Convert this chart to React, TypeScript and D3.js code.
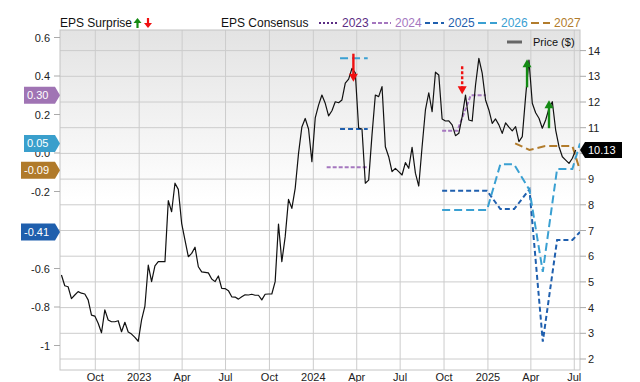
import React from 'react';
import * as d3 from 'd3';

const W = 640;
const H = 382;
const PL = 60, PR = 580, PT = 30, PB = 370;

const priceStart = '2022-07-22';
const priceValues = [
  5.27, 4.85, 4.81, 4.35, 4.49, 4.62, 4.56, 4.53, 4.30, 3.71,
  3.67, 3.39, 3.02, 3.91, 3.52, 3.45, 3.45, 3.49, 3.06, 3.43,
  3.05, 2.97, 2.84, 2.69, 3.52, 4.06, 5.65, 5.01, 5.62, 5.79,
  5.79, 5.79, 8.16, 7.73, 8.84, 8.60, 7.28, 6.63, 5.98, 6.11,
  6.35, 5.59, 5.39, 5.37, 5.35, 5.11, 5.01, 5.23, 4.75, 4.74,
  4.66, 4.42, 4.41, 4.33, 4.42, 4.50, 4.49, 4.52, 4.48, 4.48,
  4.30, 4.52, 4.53, 4.53, 5.01, 7.25, 5.79, 6.75, 8.21, 7.86,
  8.64, 10.00, 11.03, 11.36, 10.95, 9.68, 11.38, 11.88, 12.27, 11.95,
  11.46, 11.66, 12.01, 11.97, 12.08, 12.73, 12.89, 13.31, 13.13, 10.99,
  10.95, 8.84, 8.96, 10.72, 12.27, 12.21, 12.60, 10.26, 9.87, 9.29,
  9.42, 9.29, 9.16, 9.64, 9.42, 10.24, 9.23, 8.73, 10.26, 11.69,
  12.36, 11.62, 13.16, 13.05, 11.34, 11.26, 11.27, 11.11, 10.69, 10.78,
  11.43, 12.27, 11.30, 11.26, 12.66, 13.70, 13.12, 12.08, 11.69, 11.17,
  11.34, 11.11, 10.78, 11.19, 11.02, 10.88, 11.04, 10.46, 10.65, 12.21,
  13.63, 11.95, 11.58, 11.37, 10.98, 11.30, 11.75, 12.01, 10.91, 10.26,
  9.87, 9.74, 9.61, 9.81, 10.13,
];

const cons2024Dates = ['2024-01-29', '2024-04-23', '2024-07-01', '2024-09-27', '2024-10-29', '2024-11-26', '2024-12-28'];
const cons2024Values = [-0.074, -0.074, null, 0.116, 0.116, 0.30, 0.30];

const cons2025Dates = ['2024-02-26', '2024-04-24', '2024-07-01', '2024-09-27', '2024-12-30', '2025-01-27', '2025-02-25', '2025-03-29', '2025-04-26', '2025-05-26', '2025-06-27', '2025-07-13'];
const cons2025Values = [0.125, 0.125, null, -0.196, -0.196, -0.291, -0.291, -0.189, -0.98, -0.452, -0.452, -0.41];

const cons2026Dates = ['2024-02-26', '2024-04-24', '2024-07-01', '2024-09-27', '2024-12-30', '2025-01-27', '2025-02-25', '2025-03-29', '2025-04-26', '2025-05-26', '2025-06-27', '2025-07-13'];
const cons2026Values = [0.492, 0.492, null, -0.296, -0.296, -0.059, -0.059, -0.192, -0.617, -0.083, -0.083, 0.05];

const cons2027Dates = ['2025-02-27', '2025-03-29', '2025-05-01', '2025-06-27', '2025-07-13'];
const cons2027Values = [0.05, 0.016, 0.036, 0.036, -0.09];

const surpriseDates = ['2024-03-25', '2024-11-08', '2025-03-24', '2025-05-09'];
const surpriseTips = [12.79, 12.30, 13.66, 12.07];
const surpriseDirs = ['down', 'down', 'up', 'up'];
const surpriseDotted = [false, true, false, false];

const epsTicks = [0.6, 0.4, 0.2, 0, -0.2, -0.4, -0.6, -0.8, -1];
// labels hidden behind the value tags in the picture are left empty
const epsTickLabels = ['0.6', '0.4', '0.2', '0.0', '-0.2', '', '-0.6', '-0.8', '-1'];
const priceTicks = [2, 3, 4, 5, 6, 7, 8, 9, 10, 11, 12, 13, 14];
const priceTickLabels = ['2', '3', '4', '5', '6', '7', '8', '9', '', '11', '12', '13', '14'];
const dateTicks = ['2022-10-01', '2023-01-01', '2023-04-01', '2023-07-01', '2023-10-01', '2024-01-01', '2024-04-01', '2024-07-01', '2024-10-01', '2025-01-01', '2025-04-01', '2025-07-01'];
const dateTickLabels = ['Oct', '2023', 'Apr', 'Jul', 'Oct', '2024', 'Apr', 'Jul', 'Oct', '2025', 'Apr', 'Jul'];

const legendYears = ['2023', '2024', '2025', '2026', '2027'];
const seriesColors = { '2023': '#5b2d84', '2024': '#a577bf', '2025': '#1f5fae', '2026': '#3aa0d2', '2027': '#b27c2c' };
const seriesDash = { '2023': '2,2', '2024': '4,2', '2025': '5,3', '2026': '8,4', '2027': '8,4' };
const tagValues = [0.30, 0.05, -0.09, -0.41];
const tagLabels = ['0.30', '0.05', '-0.09', '-0.41'];
const tagColors = ['#a074b4', '#3a9fcc', '#b07a2a', '#1f5fad'];
const lastPriceLabel = '10.13';

const parse = d3.timeParse('%Y-%m-%d');
const FONT = 'Liberation Sans, Arial, Helvetica, sans-serif';

export default function App() {
  const x = d3.scaleTime().domain([new Date(2022, 6, 19), new Date(2025, 6, 13)]).range([PL, PR]);
  const yEps = d3.scaleLinear().domain([-1, 0.6]).range([345.5, 37.5]);
  const yPrice = d3.scaleLinear().domain([2, 14]).range([359, 50.6]);

  const start = parse(priceStart) as Date;
  const priceData = priceValues.map((v, i) => ({ d: d3.timeWeek.offset(start, i), v }));
  const priceLine = d3.line<any>().x((p) => x(p.d)).y((p) => yPrice(p.v));

  const consLine = d3.line<any>().defined((p) => p.v !== null).x((p) => x(p.d)).y((p) => yEps(p.v));
  const mk = (ds: string[], vs: (number | null)[]) => ds.map((d, i) => ({ d: parse(d), v: vs[i] }));
  const cons = [
    { k: '2024', data: mk(cons2024Dates, cons2024Values) },
    { k: '2025', data: mk(cons2025Dates, cons2025Values) },
    { k: '2026', data: mk(cons2026Dates, cons2026Values) },
    { k: '2027', data: mk(cons2027Dates, cons2027Values) },
  ];

  const arrow = (cx: number, tip: number, dir: string, color: string, dotted: boolean, len: number, head: number, hw: number, sw: number, key: string) => {
    const s = dir === 'down' ? -1 : 1;
    return (
      <g key={key}>
        <line x1={cx} x2={cx} y1={tip + s * len} y2={tip + s * (head - 1)} stroke={color} strokeWidth={sw} strokeDasharray={dotted ? '3,2' : undefined} />
        <path d={`M${cx - hw},${tip + s * head}L${cx + hw},${tip + s * head}L${cx},${tip}Z`} fill={color} />
      </g>
    );
  };

  const legendPos = [319, 372, 425, 478, 531];

  return (
    <svg width={W} height={H} style={{ position: 'absolute', left: 0, top: 0 }} fontFamily={FONT}>
      <defs>
        <linearGradient id="bg" x1="0" y1="0" x2="0" y2="1">
          <stop offset="0%" stopColor="#e3e3e3" />
          <stop offset="50%" stopColor="#ffffff" />
          <stop offset="100%" stopColor="#ffffff" />
        </linearGradient>
        <clipPath id="plot">
          <rect x={PL} y={PT} width={PR - PL} height={PB - PT} />
        </clipPath>
      </defs>
      <rect x={0} y={0} width={W} height={H} fill="#fff" />
      <rect x={PL} y={PT} width={PR - PL} height={PB - PT} fill="url(#bg)" />
      {priceTicks.map((t) => (
        <line key={'hg' + t} x1={PL} x2={PR} y1={yPrice(t)} y2={yPrice(t)} stroke="#cccccc" strokeWidth={1} />
      ))}
      {dateTicks.map((t) => (
        <line key={'vg' + t} x1={x(parse(t) as Date)} x2={x(parse(t) as Date)} y1={PT} y2={PB} stroke="#cccccc" strokeWidth={1} />
      ))}
      <rect x={PL} y={PT} width={PR - PL} height={PB - PT} fill="none" stroke="#c4c4c4" strokeWidth={1} />

      <g clipPath="url(#plot)">
        {cons.map((c) => (
          <path key={c.k} d={consLine(c.data) as string} fill="none" stroke={(seriesColors as any)[c.k]} strokeWidth={2} strokeDasharray={(seriesDash as any)[c.k]} />
        ))}
        <path d={priceLine(priceData) as string} fill="none" stroke="#111" strokeWidth={1.2} strokeLinejoin="round" />
      </g>

      {surpriseDates.map((d, i) =>
        arrow(x(parse(d) as Date), yPrice(surpriseTips[i]), surpriseDirs[i], surpriseDirs[i] === 'up' ? '#148a14' : '#f01010', surpriseDotted[i], 28, 8, 4.5, 2.4, 's' + i)
      )}

      {epsTicks.map((t, i) => (
        <g key={'et' + t}>
          <line x1={PL - 6} x2={PL} y1={yEps(t)} y2={yEps(t)} stroke="#aaa" />
          {epsTickLabels[i] && (
            <text x={PL - 10} y={yEps(t) + 4} textAnchor="end" fontSize={11} fill="#222">{epsTickLabels[i]}</text>
          )}
        </g>
      ))}
      {priceTicks.map((t, i) => (
        <g key={'pt' + t}>
          <line x1={PR} x2={PR + 6} y1={yPrice(t)} y2={yPrice(t)} stroke="#aaa" />
          {priceTickLabels[i] && (
            <text x={PR + 8} y={yPrice(t) + 4} fontSize={11} fill="#222">{priceTickLabels[i]}</text>
          )}
        </g>
      ))}
      {dateTicks.map((t, i) => (
        <text key={'dt' + t} x={x(parse(t) as Date)} y={381} textAnchor="middle" fontSize={11} fill="#222">{dateTickLabels[i]}</text>
      ))}

      {tagValues.map((v, i) => {
        const yy = yEps(v);
        const left = 36 - 3 * tagLabels[i].length;
        return (
          <g key={'tag' + i}>
            <path d={`M${left},${yy - 8.5}L${55},${yy - 8.5}L${60},${yy}L${55},${yy + 8.5}L${left},${yy + 8.5}Z`} fill={tagColors[i]} />
            <text x={left + 3} y={yy + 4} fontSize={11} fill="#fff">{tagLabels[i]}</text>
          </g>
        );
      })}
      {(() => {
        const yy = yPrice(priceValues[priceValues.length - 1]);
        return (
          <g>
            <path d={`M${580},${yy}L${585},${yy - 8}L${622},${yy - 8}L${622},${yy + 8}L${585},${yy + 8}Z`} fill="#000" />
            <text x={588} y={yy + 4} fontSize={11} fill="#fff">{lastPriceLabel}</text>
          </g>
        );
      })()}

      <text x={60} y={27} fontSize={12} fill="#111">EPS Surprise</text>
      {arrow(137.5, 18, 'up', '#148a14', false, 10, 5, 4, 2.2, 'lg1')}
      {arrow(148, 28, 'down', '#f01010', false, 10, 5, 4, 2.2, 'lg2')}
      <text x={221} y={27} fontSize={12} fill="#111">EPS Consensus</text>
      {legendYears.map((k, i) => (
        <g key={'lg' + k}>
          <line x1={legendPos[i]} x2={legendPos[i] + 19} y1={23} y2={23} stroke={(seriesColors as any)[k]} strokeWidth={2} strokeDasharray={(seriesDash as any)[k]} />
          <text x={legendPos[i] + 23} y={27} fontSize={12} fill={(seriesColors as any)[k]}>{k}</text>
        </g>
      ))}
      <line x1={507} x2={522} y1={42} y2={42} stroke="#666" strokeWidth={3} />
      <text x={533} y={46} fontSize={11} fill="#111">Price ($)</text>
    </svg>
  );
}
